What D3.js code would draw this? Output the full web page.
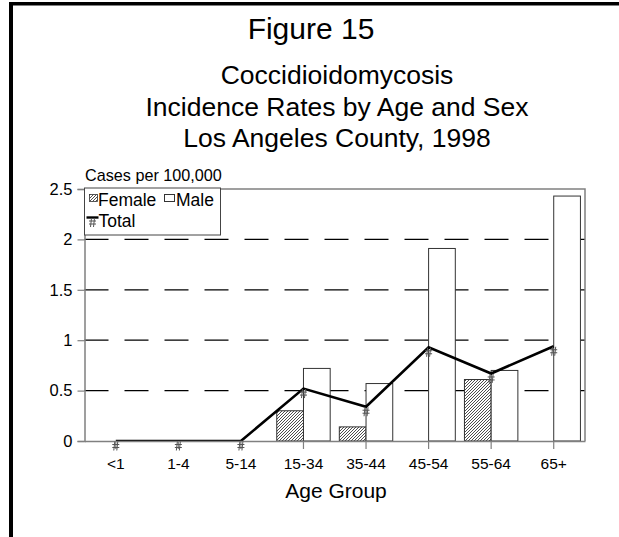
<!DOCTYPE html>
<html>
<head>
<meta charset="utf-8">
<script src="https://cdn.jsdelivr.net/npm/d3@7/dist/d3.min.js"></script>
<style>
  html, body { margin: 0; padding: 0; background: #fff; }
  svg { display: block; font-family: "Liberation Sans", Arial, Helvetica, sans-serif; }
</style>
</head>
<body>
<svg id="chart" width="619" height="537"></svg>
<script>
// Age groups and incidence rates (cases per 100,000)
const ageGroups = ["<1", "1-4", "5-14", "15-34", "35-44", "45-54", "55-64", "65+"];
const femaleRates = [0, 0, 0, 0.30, 0.14, 0, 0.61, 0];
const maleRates = [0, 0, 0, 0.72, 0.57, 1.91, 0.70, 2.43];
const totalRates = [0, 0, 0, 0.52, 0.34, 0.93, 0.67, 0.94];
const yTicks = [0, 0.5, 1, 1.5, 2, 2.5];
const titleLines = ["Coccidioidomycosis", "Incidence Rates by Age and Sex", "Los Angeles County, 1998"];

const svg = d3.select("#chart");
const plot = { left: 84.5, right: 585, top: 189, bottom: 441 };
const axisGrey = "#808080";

// page frame: heavy rule across the top and down the left side
svg.append("rect").attr("x", 9).attr("y", 2).attr("width", 610).attr("height", 3.5).attr("fill", "#000");
svg.append("rect").attr("x", 9).attr("y", 2).attr("width", 4).attr("height", 535).attr("fill", "#000");

// headings
svg.append("text").attr("x", 311).attr("y", 39).attr("text-anchor", "middle")
  .attr("font-size", 30).text("Figure 15");
titleLines.forEach((t, i) => {
  svg.append("text").attr("x", 337).attr("y", 84 + i * 31.5).attr("text-anchor", "middle")
    .attr("font-size", 26.5).text(t);
});

// scales
const x = d3.scaleBand().domain(ageGroups).range([plot.left, plot.right]).padding(0);
const y = d3.scaleLinear().domain([0, 2.5]).range([plot.bottom, plot.top]);
const barW = x.bandwidth() * 0.427;

// hatch for the female bars
const defs = svg.append("defs");
const pat = defs.append("pattern").attr("id", "hatch").attr("patternUnits", "userSpaceOnUse")
  .attr("width", 3).attr("height", 3);
pat.append("rect").attr("width", 3).attr("height", 3).attr("fill", "#fff");
pat.append("path").attr("d", "M-1,1 L1,-1 M0,3 L3,0 M2,4 L4,2")
  .attr("stroke", "#3a3a3a").attr("stroke-width", 0.9);
defs.append("clipPath").attr("id", "plotClip").append("rect")
  .attr("x", plot.left).attr("y", plot.top).attr("width", plot.right - plot.left).attr("height", plot.bottom - plot.top);

// dashed gridlines
svg.append("g").selectAll("line").data(yTicks.filter(v => v > 0 && v < 2.5)).join("line")
  .attr("x1", plot.left).attr("x2", plot.right)
  .attr("y1", d => y(d)).attr("y2", d => y(d))
  .attr("stroke", "#000").attr("stroke-width", 1.2).attr("stroke-dasharray", "24,16");

// bars
const rows = ageGroups.map((g, i) => ({ g, f: femaleRates[i], m: maleRates[i], t: totalRates[i] }));
const bars = svg.append("g");
bars.selectAll("rect.f").data(rows.filter(d => d.f > 0)).join("rect").attr("class", "f")
  .attr("x", d => x(d.g) + x.bandwidth() / 2 - barW)
  .attr("y", d => y(d.f)).attr("width", barW).attr("height", d => y(0) - y(d.f))
  .attr("fill", "url(#hatch)").attr("stroke", "#333").attr("stroke-width", 1);
bars.selectAll("rect.m").data(rows.filter(d => d.m > 0)).join("rect").attr("class", "m")
  .attr("x", d => x(d.g) + x.bandwidth() / 2)
  .attr("y", d => y(d.m)).attr("width", barW).attr("height", d => y(0) - y(d.m))
  .attr("fill", "#fff").attr("stroke", "#333").attr("stroke-width", 1);

// plot-area border (top and right)
svg.append("path")
  .attr("d", `M${plot.left},${plot.top}H${plot.right}V${plot.bottom}`)
  .attr("fill", "none").attr("stroke", axisGrey).attr("stroke-width", 1.5);

// total line
const cx = d => x(d.g) + x.bandwidth() / 2;
svg.append("path").datum(rows)
  .attr("clip-path", "url(#plotClip)")
  .attr("d", d3.line().x(cx).y(d => y(d.t)))
  .attr("fill", "none").attr("stroke", "#000").attr("stroke-width", 2.6).attr("stroke-linejoin", "miter");

// y axis
const yAxis = svg.append("g").attr("transform", `translate(${plot.left},0)`)
  .call(d3.axisLeft(y).tickValues(yTicks).tickSize(7).tickPadding(5).tickFormat(d3.format("")));
yAxis.select(".domain").attr("stroke", axisGrey).attr("stroke-width", 1.5);
yAxis.selectAll(".tick line").attr("stroke", axisGrey).attr("stroke-width", 1.2);
yAxis.selectAll("text").attr("font-size", 16.5).attr("fill", "#000")
  .attr("font-family", "Liberation Sans, Arial, sans-serif");

// x axis with ticks under each group
const xAxis = svg.append("g").attr("transform", `translate(0,${plot.bottom})`)
  .call(d3.axisBottom(x).tickSize(8).tickPadding(9).tickSizeOuter(0));
xAxis.select(".domain").attr("stroke", axisGrey).attr("stroke-width", 1.5);
xAxis.selectAll(".tick line").attr("stroke", axisGrey).attr("stroke-width", 1.2);
xAxis.selectAll("text").attr("font-size", 15.5).attr("fill", "#000")
  .attr("font-family", "Liberation Sans, Arial, sans-serif");

// markers for the total series
const marker = (sel) => sel.attr("d", "M-3.5,-1.5H3.5M-3.5,1.5H3.5M-1,-4.5L-2,4.5M2,-4.5L1,4.5")
  .attr("fill", "none").attr("stroke", "#555").attr("stroke-width", 1);
svg.append("g").selectAll("path").data(rows).join("path")
  .attr("transform", d => `translate(${cx(d)},${y(d.t) + 5})`).call(marker);

// axis titles
svg.append("text").attr("x", 85).attr("y", 181).attr("font-size", 16.2).text("Cases per 100,000");
svg.append("text").attr("x", 336).attr("y", 498).attr("text-anchor", "middle")
  .attr("font-size", 21).text("Age Group");

// legend
const lg = svg.append("g");
lg.append("rect").attr("x", 84.5).attr("y", 188).attr("width", 136).attr("height", 47)
  .attr("fill", "#fff").attr("stroke", "#444").attr("stroke-width", 1);
lg.append("rect").attr("x", 89.5).attr("y", 194.5).attr("width", 8).attr("height", 7)
  .attr("fill", "url(#hatch)").attr("stroke", "#333").attr("stroke-width", 0.8);
lg.append("text").attr("x", 98).attr("y", 206).attr("font-size", 17.5).text("Female");
lg.append("rect").attr("x", 164.5).attr("y", 194.5).attr("width", 10).attr("height", 7)
  .attr("fill", "#fff").attr("stroke", "#333").attr("stroke-width", 1);
lg.append("text").attr("x", 176).attr("y", 206).attr("font-size", 17.5).text("Male");
lg.append("line").attr("x1", 86.5).attr("x2", 98.5).attr("y1", 217.5).attr("y2", 217.5)
  .attr("stroke", "#000").attr("stroke-width", 2.4);
lg.append("path").attr("transform", "translate(92.5,222.5)").call(marker);
lg.append("text").attr("x", 98.5).attr("y", 227).attr("font-size", 17.5).text("Total");
</script>
</body>
</html>
